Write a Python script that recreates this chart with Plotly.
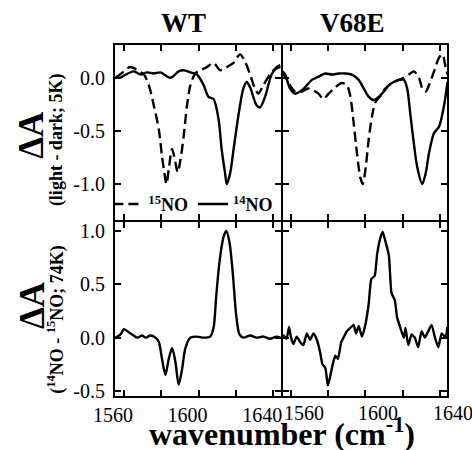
import plotly.graph_objects as go
from plotly.subplots import make_subplots

# ---- data ----
wt_14_x = [1555.5, 1558, 1560, 1565.3, 1568.9, 1572.4, 1576, 1579.6, 1584.9, 1589.3, 1592, 1595.6, 1599.1,
           1602.7, 1605.3, 1608, 1610.7, 1612.4, 1614.2, 1615.1, 1616.9, 1618.7, 1621.3, 1624, 1625.8,
           1627.6, 1631.1, 1632.9, 1635.6, 1639.1, 1641.8, 1644]
wt_14_y = [0.0, 0.0, 0.02, 0.06, 0.03, 0.05, 0.04, 0.05, 0.0, 0.06, 0.07, 0.05, 0.03,
           -0.07, -0.18, -0.2, -0.39, -0.68, -0.9, -1.0, -0.9, -0.68, -0.36, -0.1, -0.04,
           -0.09, -0.26, -0.28, -0.18, 0.03, 0.09, 0.1]

wt_15_x = [1555.5, 1560, 1563, 1565.3, 1568, 1570.7, 1573.3, 1576, 1578.7, 1580.4, 1581.7, 1582.8, 1584,
           1585.8, 1587.6, 1588.8, 1590.2, 1592, 1593.8, 1595.6, 1598.2, 1600.9, 1604.4, 1608, 1611.6,
           1615.1, 1618.7, 1622.2, 1624.9, 1627.6, 1630.2, 1632, 1634.7, 1638.2, 1641.8, 1644]
wt_15_y = [0.0, 0.06, 0.1, 0.09, 0.06, 0.03, -0.07, -0.26, -0.49, -0.74, -0.9, -1.0, -0.86,
           -0.67, -0.8, -0.89, -0.78, -0.55, -0.26, -0.07, 0.04, 0.07, 0.1, 0.14, 0.07,
           0.1, 0.14, 0.22, 0.15, 0.03, -0.1, -0.15, -0.07, 0.03, 0.1, 0.12]

v68e_14_x = [1555, 1557, 1559.6, 1562.3, 1565, 1567.7, 1571.3, 1574.9, 1578.5, 1582.1, 1585.7, 1589.2,
             1592.8, 1596.4, 1599.1, 1601.8, 1604.5, 1607.2, 1609.9, 1612.6, 1615.2, 1617.9, 1620.6,
             1622.4, 1624.2, 1626, 1627.8, 1630.5, 1632.3, 1634.1, 1636.8, 1639.5, 1642.2, 1644]
v68e_14_y = [0.07, 0.03, -0.1, -0.15, -0.13, -0.09, -0.02, 0.01, 0.04, 0.03, 0.04, 0.04,
             0.03, -0.02, -0.1, -0.18, -0.21, -0.18, -0.13, -0.07, -0.04, -0.02, -0.02,
             -0.1, -0.36, -0.62, -0.84, -1.0, -0.9, -0.71, -0.52, -0.46, -0.26, -0.04]

v68e_15_x = [1555, 1557, 1559.6, 1562.3, 1565.9, 1569.5, 1572.2, 1574.9, 1577.6, 1580.3, 1583.9, 1587.4,
             1590.1, 1591.9, 1593.7, 1595.5, 1597.3, 1598.6, 1600, 1601.8, 1603.6, 1605.4, 1608.1,
             1610.8, 1614.3, 1617.9, 1620.6, 1623.3, 1626, 1628.7, 1630.5, 1632.3, 1634.1, 1636.8,
             1639.5, 1641.3, 1643.1, 1644]
v68e_15_y = [0.06, 0.01, -0.07, -0.13, -0.13, -0.1, -0.12, -0.15, -0.2, -0.15, -0.09, -0.05,
             -0.07, -0.17, -0.42, -0.71, -0.94, -1.0, -0.87, -0.58, -0.36, -0.23, -0.17,
             -0.1, -0.05, -0.02, 0.0, 0.03, 0.06, 0.0, -0.1, -0.13, -0.07, 0.06,
             0.19, 0.22, 0.09, 0.03]

wt_diff_x = [1555.5, 1558.2, 1560, 1561.8, 1564.4, 1567.1, 1569.8, 1571.6, 1574.2, 1576.9, 1578.7, 1580.4,
             1582.2, 1584, 1585.8, 1587.6, 1589.3, 1591.1, 1592.9, 1595.6, 1599.1, 1602.7, 1606.2,
             1608, 1609.4, 1611.2, 1613.3, 1614.8, 1616.5, 1618.3, 1620.1, 1621.9, 1624, 1627.6,
             1631.1, 1634.7, 1638.2, 1641.8, 1644]
wt_diff_y = [0.0, 0.03, 0.08, 0.06, 0.03, 0.0, 0.02, 0.0, 0.02, 0.0, -0.04, -0.2,
             -0.35, -0.2, -0.1, -0.23, -0.44, -0.3, -0.1, 0.0, 0.01, 0.0, 0.01,
             0.09, 0.38, 0.71, 0.94, 1.0, 0.9, 0.61, 0.22, 0.03, 0.0, 0.02,
             0.0, 0.01, -0.01, 0.01, 0.0]

v68e_diff_x = [1555, 1556.1, 1557.8, 1559.1, 1560.2, 1561.4, 1563.2, 1565, 1566.8, 1568.6, 1570.4, 1572.2,
               1574, 1575.8, 1577, 1578.5, 1579.9, 1581.2, 1582.4, 1583.9, 1585.3, 1587.1, 1588.3,
               1590.1, 1591.9, 1593.7, 1595, 1596.4, 1598.2, 1600, 1601.8, 1603.2, 1605, 1606.3,
               1608.1, 1609.3, 1610.8, 1612.6, 1614, 1615.8, 1617, 1618.8, 1620.6, 1621.5, 1623,
               1624.8, 1626.5, 1628.3, 1630.1, 1631.9, 1633.7, 1635.5, 1637.3, 1639.1, 1640.9,
               1643, 1644]
v68e_diff_y = [0.0, 0.02, -0.01, 0.1, 0.0, -0.06, 0.01, -0.04, -0.07, 0.04, -0.02, 0.04,
               -0.02, -0.14, -0.25, -0.28, -0.45, -0.36, -0.26, -0.17, -0.2, -0.04, 0.0,
               0.06, 0.09, 0.12, 0.04, 0.11, 0.01, 0.12, 0.32, 0.55, 0.58, 0.78,
               0.94, 0.99, 0.9, 0.77, 0.42, 0.35, 0.19, 0.09, 0.0, 0.09, -0.07,
               0.03, 0.0, -0.09, 0.06, 0.0, 0.06, 0.12, 0.0, -0.09, 0.04,
               0.0, 0.1]

x_tickvals = [1560, 1600, 1640]
x_ticktext = ["1560", "1600", "1640"]
top_yticks = [0.0, -0.5, -1.0]
top_yticktext = ["0.0", "-0.5", "-1.0"]
bot_yticks = [1.0, 0.5, 0.0, -0.5]
bot_yticktext = ["1.0", "0.5", "0.0", "-0.5"]

FONT = "Liberation Serif"
LW = 2.4

fig = make_subplots(rows=2, cols=2, horizontal_spacing=0.006, vertical_spacing=0.006)

dash_style = "10px,5px"
fig.add_trace(go.Scatter(x=wt_15_x, y=wt_15_y, mode="lines", name="<b><sup>15</sup>NO</b>",
                         line=dict(color="black", width=LW, dash=dash_style, shape="spline", smoothing=0.8)),
              row=1, col=1)
fig.add_trace(go.Scatter(x=wt_14_x, y=wt_14_y, mode="lines", name="<b><sup>14</sup>NO</b>",
                         line=dict(color="black", width=LW, shape="spline", smoothing=0.8)),
              row=1, col=1)
fig.add_trace(go.Scatter(x=v68e_15_x, y=v68e_15_y, mode="lines", showlegend=False,
                         line=dict(color="black", width=LW, dash=dash_style, shape="spline", smoothing=0.8)),
              row=1, col=2)
fig.add_trace(go.Scatter(x=v68e_14_x, y=v68e_14_y, mode="lines", showlegend=False,
                         line=dict(color="black", width=LW, shape="spline", smoothing=0.8)),
              row=1, col=2)
fig.add_trace(go.Scatter(x=wt_diff_x, y=wt_diff_y, mode="lines", showlegend=False,
                         line=dict(color="black", width=LW, shape="spline", smoothing=0.8)),
              row=2, col=1)
fig.add_trace(go.Scatter(x=v68e_diff_x, y=v68e_diff_y, mode="lines", showlegend=False,
                         line=dict(color="black", width=LW, shape="spline", smoothing=0.5)),
              row=2, col=2)

axis_common = dict(showline=True, linecolor="black", linewidth=2, mirror="allticks",
                   ticks="inside", ticklen=6, tickwidth=1.5, tickcolor="black",
                   showgrid=False, zeroline=False,
                   tickfont=dict(family=FONT, size=20, color="black"))

x_domains = {1: [0.0, 0.4991], 2: [0.5051, 1.0]}
x_ranges = {1: [1555.2, 1644.0], 2: [1555.7, 1643.75]}
y_domains = {1: [0.5014, 1.0], 2: [0.0, 0.4957]}

for r in (1, 2):
    for c in (1, 2):
        xa = dict(axis_common, range=x_ranges[c], domain=x_domains[c],
                  tickvals=x_tickvals, ticktext=x_ticktext,
                  minor=dict(dtick=20, tick0=1560, ticks="inside", ticklen=6, tickwidth=1.5,
                             tickcolor="black", showgrid=False),
                  showticklabels=(r == 2 and c == 1), ticklabelshift=-11,
                  ticklabeloverflow="allow")
        if r == 1:
            ya = dict(axis_common, range=[-1.339, 0.308], domain=y_domains[r],
                      tickvals=top_yticks, ticktext=top_yticktext,
                      showticklabels=(c == 1), ticklabelstandoff=4)
        else:
            ya = dict(axis_common, range=[-0.547, 1.084], domain=y_domains[r],
                      tickvals=bot_yticks, ticktext=bot_yticktext,
                      showticklabels=(c == 1), ticklabelstandoff=4)
        fig.update_xaxes(xa, row=r, col=c)
        fig.update_yaxes(ya, row=r, col=c)

# right-panel x tick labels (printed slightly right of their ticks in the original)
annos = [dict(text=t, x=v, xref="x4", y=0, yref="paper", xshift=13, yshift=-4,
              xanchor="center", yanchor="top", showarrow=False,
              font=dict(family=FONT, size=20, color="black"))
         for v, t in zip(x_tickvals, x_ticktext)]

annos += [
    dict(text="<b>WT</b>", x=0.205, y=1.0, yshift=22, xref="paper", yref="paper", xanchor="center",
         showarrow=False, font=dict(family=FONT, size=27, color="black"), yanchor="middle"),
    dict(text="<b>V68E</b>", x=0.716, y=1.0, yshift=22, xref="paper", yref="paper", xanchor="center",
         showarrow=False, font=dict(family=FONT, size=27, color="black"), yanchor="middle"),
    dict(text="<b>wavenumber (cm<sup>-1</sup>)</b>", x=0.502, y=0, yshift=-36, xref="paper", yref="paper",
         xanchor="center", showarrow=False, font=dict(family=FONT, size=32, color="black"), yanchor="middle"),
    dict(text="<b>ΔA</b>", x=0, xshift=-83, y=0.744, xref="paper", yref="paper", textangle=-90,
         showarrow=False, font=dict(family=FONT, size=35, color="black"), xanchor="center", yanchor="middle"),
    dict(text="<b>(light - dark; 5K)</b>", x=0, xshift=-59, y=0.729, xref="paper", yref="paper",
         textangle=-90, showarrow=False, font=dict(family=FONT, size=18, color="black"),
         xanchor="center", yanchor="middle"),
    dict(text="<b>ΔA</b>", x=0, xshift=-83, y=0.259, xref="paper", yref="paper", textangle=-90,
         showarrow=False, font=dict(family=FONT, size=35, color="black"), xanchor="center", yanchor="middle"),
    dict(text="<b>(<sup>14</sup>NO - <sup>15</sup>NO; 74K)</b>", x=0, xshift=-59, y=0.217, xref="paper",
         yref="paper", textangle=-90, showarrow=False, font=dict(family=FONT, size=18, color="black"),
         xanchor="center", yanchor="middle"),
]

fig.update_layout(
    width=472, height=450,
    margin=dict(l=115, r=25, t=45, b=54),
    paper_bgcolor="white", plot_bgcolor="white",
    font=dict(family=FONT, color="black"),
    annotations=annos,
    showlegend=True,
    legend=dict(orientation="h", x=-0.02, y=0.546, xanchor="left", yanchor="middle",
                bgcolor="rgba(0,0,0,0)", font=dict(family=FONT, size=18, color="black"),
                itemwidth=30, tracegroupgap=0, traceorder="normal"),
)

fig.write_html("out.html")
